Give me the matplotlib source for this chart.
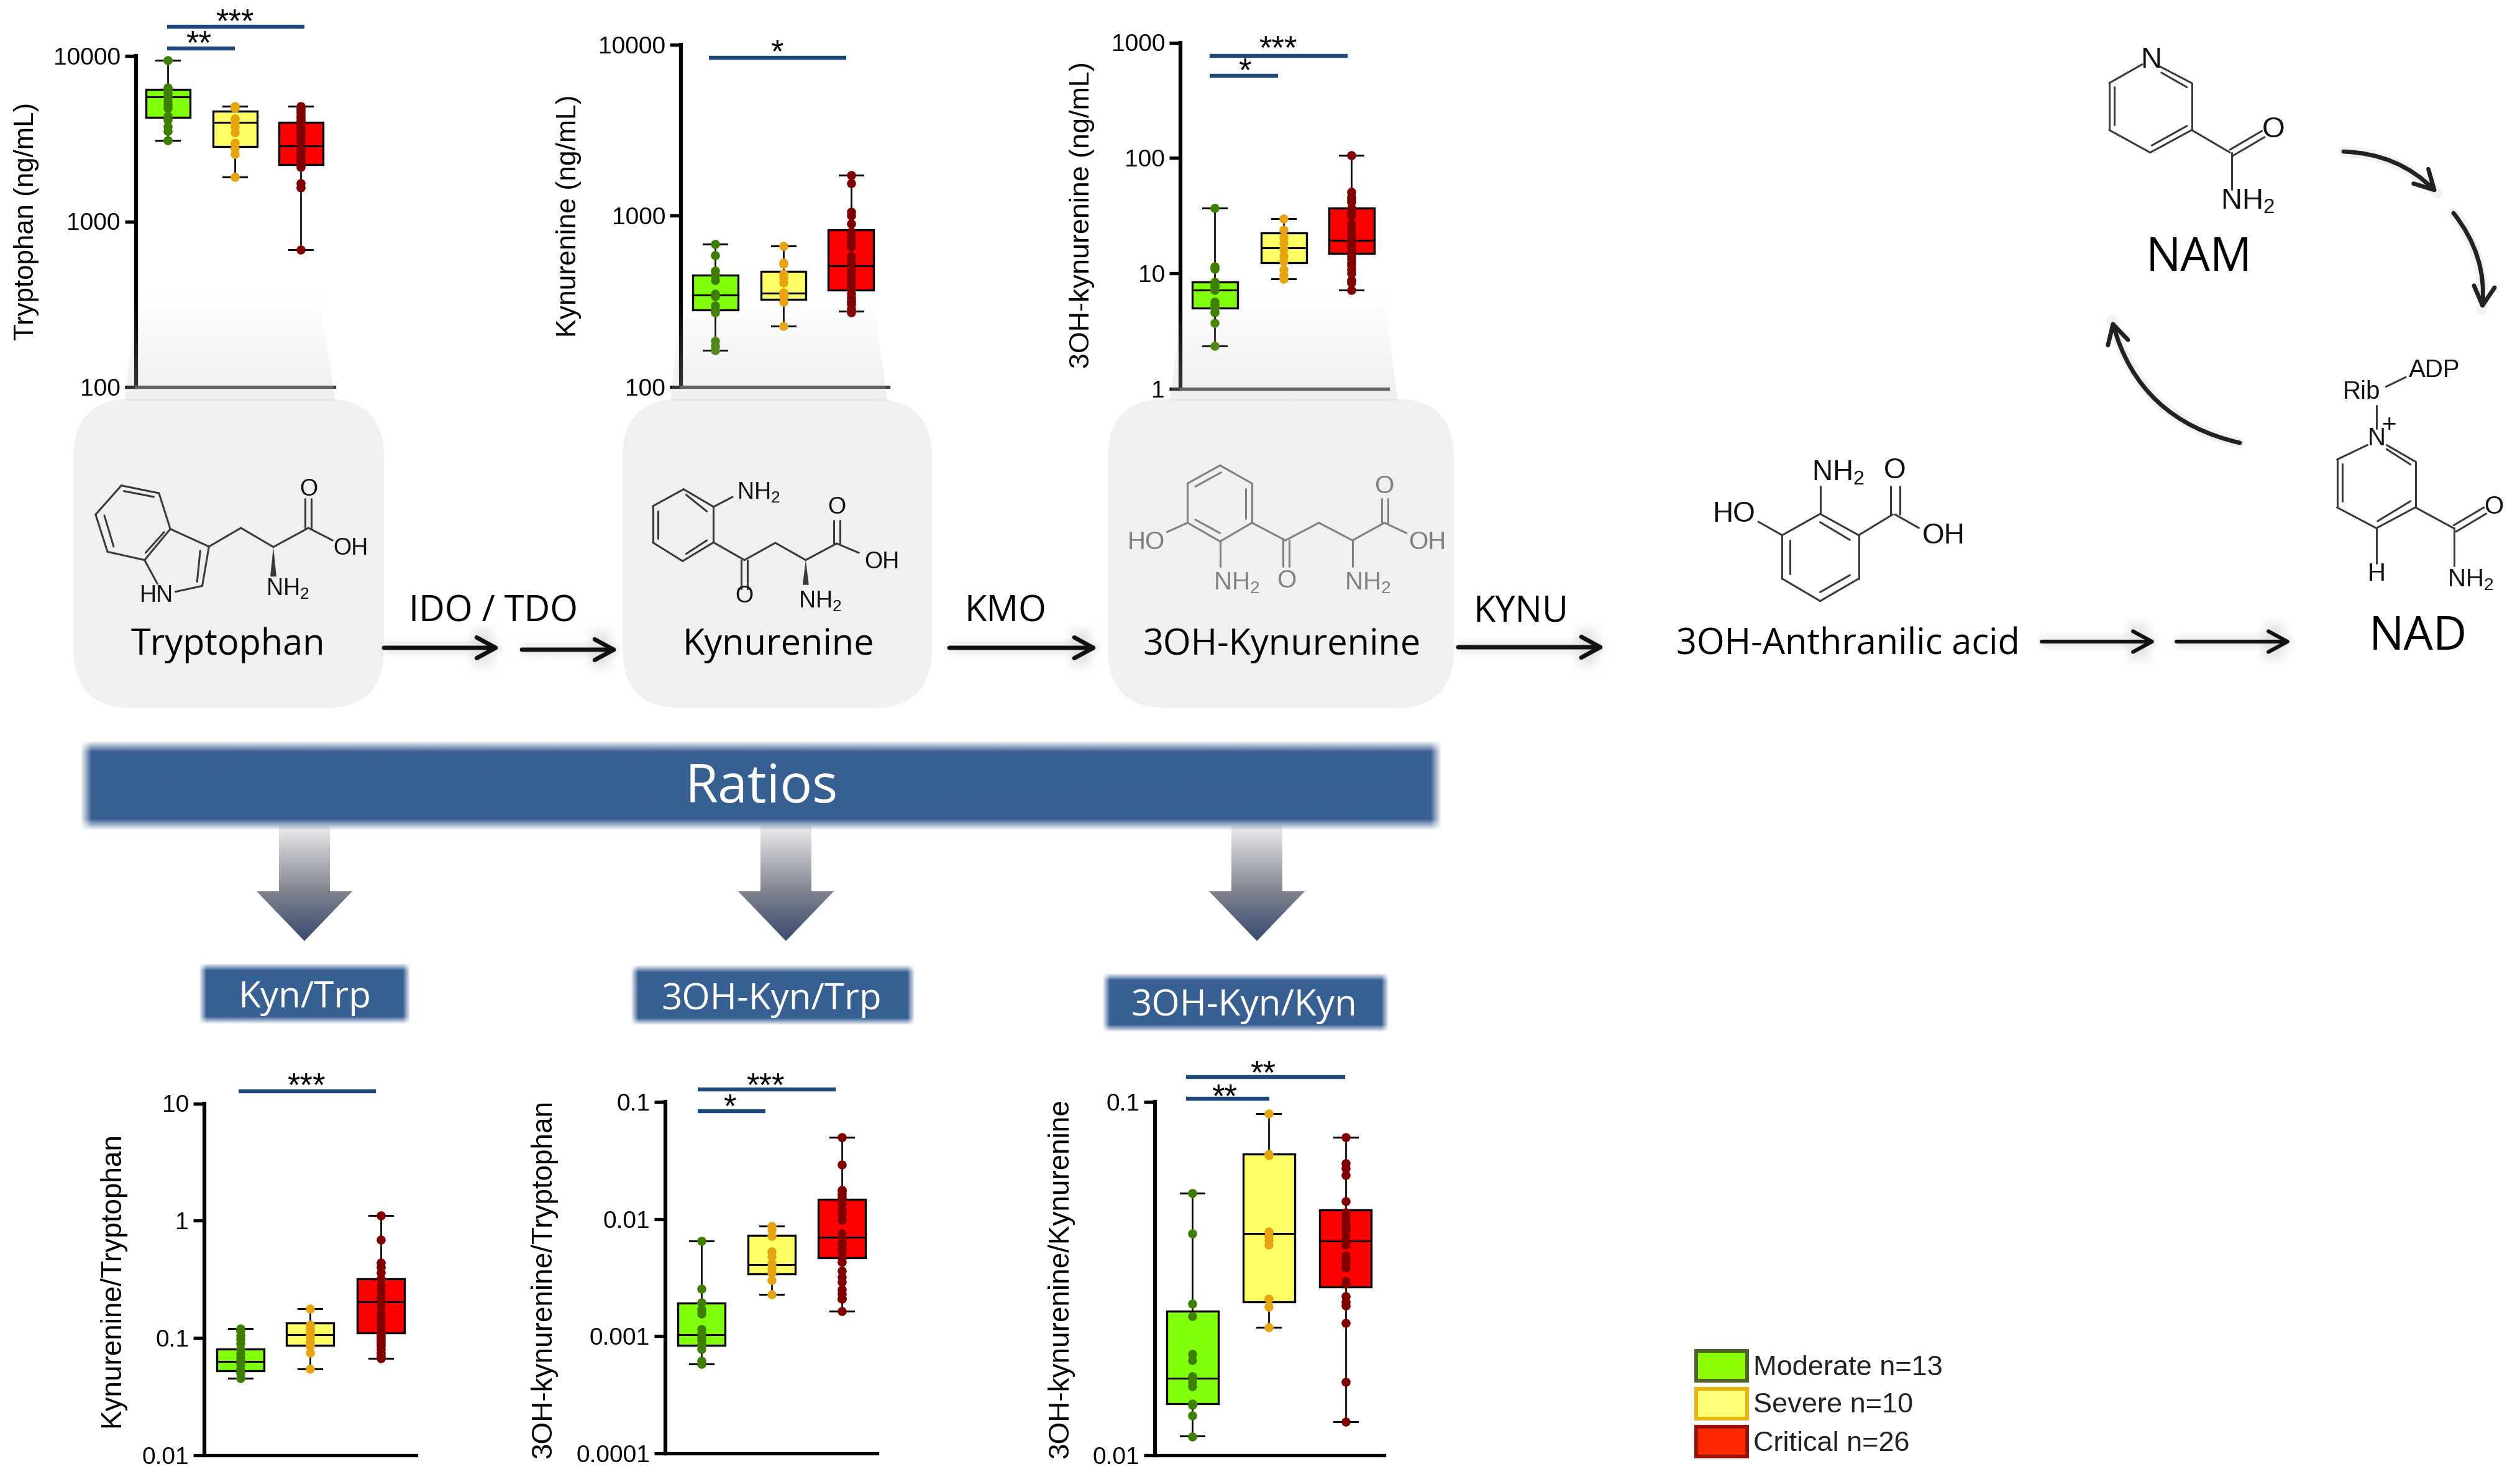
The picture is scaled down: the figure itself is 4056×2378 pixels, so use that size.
# -*- coding: utf-8 -*-
"""
Kynurenine pathway figure: boxplots of the metabolites and ratios plus the pathway sketch
"""
import matplotlib
matplotlib.use("Agg")
import matplotlib.pyplot as plt
import numpy as np
from matplotlib.colors import to_rgb
from matplotlib.patches import FancyArrowPatch, FancyBboxPatch, Polygon, Rectangle
from matplotlib.ticker import FixedLocator, FixedFormatter, NullLocator

W, H = 4056, 2378
DPI = 100
plt.rcParams['font.family'] = ['Liberation Sans', 'DejaVu Sans']
plt.rcParams['mathtext.default'] = 'regular'

#%% Data, boxes are [whisker low, q1, median, q3, whisker high]
trp_box = [[3083, 4255, 5675, 6285, 9383], [1853, 2840, 3961, 4636, 4983], [673, 2206, 2860, 3978, 4983]]
trp_moderate = [9383, 6427, 6285, 5963, 5637, 5330, 5036, 4851, 4335, 4099, 3733, 3529, 3083]
trp_severe = [4983, 4853, 4177, 3947, 3733, 3463, 2981, 2765, 2564, 1853]
trp_critical = [4983, 4853, 4672, 4500, 4335, 4177, 4023, 3877, 3733, 3596, 3463, 3336, 3260,
                3153, 3038, 2765, 2665, 2564, 2470, 2380, 2293, 2208, 2128, 1699, 1606, 673]

kyn_box = [[164, 282, 343, 450, 682], [227, 325, 353, 473, 665], [277, 368, 509, 830, 1725]]
kyn_moderate = [682, 586, 477, 450, 420, 350, 338, 298, 282, 272, 186, 173, 164]
kyn_severe = [665, 531, 524, 459, 435, 405, 356, 338, 314, 227]
kyn_critical = [1725, 1549, 1057, 1002, 899, 805, 750, 697, 661, 582, 551, 522, 494,
                468, 443, 420, 398, 370, 350, 332, 320, 314, 303, 287, 277, 272]

ohk_box = [[2.35, 5.0, 7.2, 8.4, 37], [8.96, 12.4, 16.7, 22.3, 29.9], [7.2, 14.9, 19.4, 37, 106]]
ohk_moderate = [37, 11.5, 10.9, 8.4, 8.0, 7.6, 7.2, 5.7, 5.3, 5.0, 4.6, 3.7, 2.35]
ohk_severe = [29.9, 24, 20.6, 18.5, 16.2, 14.2, 12.7, 10.8, 9.7, 8.96]
ohk_critical = [106, 51, 46, 44, 41.5, 37, 33.4, 31.7, 27, 24.9, 23, 21.2, 19.5,
                19, 18, 16.6, 15.3, 14.2, 13.4, 12.4, 11.7, 10.8, 10, 8.7, 8.3, 7.2]

kt_box = [[0.0456, 0.0523, 0.0629, 0.0805, 0.1197], [0.0546, 0.0863, 0.107, 0.1337, 0.177], [0.0673, 0.110, 0.204, 0.318, 1.104]]
kt_moderate = [0.1197, 0.115, 0.105, 0.098, 0.09, 0.08, 0.074, 0.068, 0.063, 0.059, 0.054, 0.05, 0.0456]
kt_severe = [0.177, 0.13, 0.12, 0.115, 0.108, 0.10, 0.092, 0.085, 0.075, 0.0546]
kt_critical = [1.104, 0.689, 0.44, 0.40, 0.36, 0.32, 0.28, 0.25, 0.225, 0.205, 0.19, 0.165, 0.155,
               0.14, 0.13, 0.12, 0.11, 0.105, 0.10, 0.095, 0.09, 0.085, 0.08, 0.075, 0.07, 0.0673]

ot_box = [[0.000583, 0.000836, 0.00103, 0.00191, 0.00649], [0.00228, 0.0034, 0.00409, 0.00728, 0.00867], [0.00164, 0.0047, 0.00698, 0.0147, 0.0501]]
ot_moderate = [0.00649, 0.00254, 0.00195, 0.0017, 0.00155, 0.00115, 0.00105, 0.00098, 0.00092, 0.00085, 0.00078, 0.00062, 0.000583]
ot_severe = [0.00867, 0.0081, 0.0072, 0.00525, 0.0048, 0.0042, 0.0038, 0.0035, 0.003, 0.00228]
ot_critical = [0.0501, 0.0292, 0.0176, 0.0175, 0.0165, 0.0155, 0.0145, 0.0135, 0.012, 0.011, 0.0098, 0.0075, 0.0068,
               0.0062, 0.0056, 0.0052, 0.0047, 0.0043, 0.0036, 0.0032, 0.0029, 0.0025, 0.0023, 0.0021, 0.00208, 0.00164]

ok_box = [[0.01132, 0.014, 0.01655, 0.0256, 0.0551], [0.02304, 0.0272, 0.0424, 0.0713, 0.0926], [0.01245, 0.03, 0.0404, 0.0495, 0.0795]]
ok_moderate = [0.0551, 0.0424, 0.0268, 0.0248, 0.01937, 0.01854, 0.0167, 0.01612, 0.0157, 0.01402, 0.0139, 0.01296, 0.0113]
ok_severe = [0.0926, 0.0713, 0.0705, 0.043, 0.0418, 0.0405, 0.0394, 0.0277, 0.0263, 0.02304]
ok_critical = [0.0795, 0.0671, 0.0648, 0.062, 0.0523, 0.0486, 0.0475, 0.0469, 0.0453, 0.0443, 0.0433, 0.0418, 0.0404,
               0.0394, 0.0367, 0.0358, 0.0351, 0.0339, 0.031, 0.0305, 0.02823, 0.0272, 0.0265, 0.0237, 0.0161, 0.01245]

legend_labels = ['Moderate n=13', 'Severe n=10', 'Critical n=26']
box_colors = ['#80FF0A', '#FFFF66', '#FF0000']
dot_colors = ['#3F7F00', '#E6A50F', '#800000']

#%% Layout of the six panels, all in pixels of the final picture
panels = [
    dict(box=trp_box, pts=[trp_moderate, trp_severe, trp_critical], ylabel='Tryptophan (ng/mL)',
         ticks=[100, 1000, 10000], labels=['100', '1000', '10000'], fs=31.5,
         x=(219, 538), y=(90, 623), cx=(270, 378, 484), bw=71, lab=(43, 356), spine='#404040',
         bars=[(269, 490, 42.5, '***', 378, 21), (269, 378, 78, '**', 320, 56)]),
    dict(box=kyn_box, pts=[kyn_moderate, kyn_severe, kyn_critical], ylabel='Kynurenine (ng/mL)',
         ticks=[100, 1000, 10000], labels=['100', '1000', '10000'], fs=32,
         x=(1096, 1430), y=(71.5, 623), cx=(1151, 1261, 1370), bw=73, lab=(915, 348), spine='#404040',
         bars=[(1141, 1362, 93, '*', 1250, 70)]),
    dict(box=ohk_box, pts=[ohk_moderate, ohk_severe, ohk_critical], ylabel='3OH-kynurenine (ng/mL)',
         ticks=[1, 10, 100, 1000], labels=['1', '10', '100', '1000'], fs=32.3,
         x=(1900, 2234), y=(68.5, 626), cx=(1955, 2066, 2175), bw=73, lab=(1741, 346), spine='#404040',
         bars=[(1947, 2169, 90, '***', 2057, 64), (1947, 2057, 122, '*', 2003, 100)]),
    dict(box=kt_box, pts=[kt_moderate, kt_severe, kt_critical], ylabel='Kynurenine/Tryptophan',
         ticks=[0.01, 0.1, 1, 10], labels=['0.01', '0.1', '1', '10'], fs=33,
         x=(329, 670), y=(1776.5, 2343), cx=(387, 499, 613), bw=76, lab=(180, 2061), spine='black',
         bars=[(384, 605, 1757, '***', 493, 1734)]),
    dict(box=ot_box, pts=[ot_moderate, ot_severe, ot_critical], ylabel='3OH-kynurenine/Tryptophan',
         ticks=[0.0001, 0.001, 0.01, 0.1], labels=['0.0001', '0.001', '0.01', '0.1'], fs=33,
         x=(1071, 1412), y=(1774, 2340), cx=(1129, 1242, 1355), bw=76, lab=(875, 2059), spine='black',
         bars=[(1123, 1345, 1754, '***', 1232, 1734), (1123, 1232, 1789, '*', 1174, 1768)]),
    dict(box=ok_box, pts=[ok_moderate, ok_severe, ok_critical], ylabel='3OH-kynurenine/Kynurenine',
         ticks=[0.01, 0.1], labels=['0.01', '0.1'], fs=33,
         x=(1859, 2228), y=(1774, 2343), cx=(1919, 2042, 2165.5), bw=83, lab=(1707, 2059), spine='black',
         bars=[(1909, 2165, 1734, '**', 2033, 1714), (1909, 2043, 1769, '**', 1971, 1752)]),
]


def px_axes(x0, x1, y0, y1, zorder=1):
    return fig.add_axes([x0 / W, 1 - y1 / H, (x1 - x0) / W, (y1 - y0) / H], zorder=zorder)


def soft_rect(ax, x0, x1, y0, y1, color, blur=5, alpha=1.0, zorder=1):
    # rectangle with blurred edges, built as an rgba image
    xs = np.arange(x0 - blur, x1 + blur + 1)
    ys = np.arange(y0 - blur, y1 + blur + 1)
    ax_a = np.clip((xs - x0 + blur) / (2 * blur), 0, 1) * np.clip((x1 + blur - xs) / (2 * blur), 0, 1)
    ay_a = np.clip((ys - y0 + blur) / (2 * blur), 0, 1) * np.clip((y1 + blur - ys) / (2 * blur), 0, 1)
    img = np.ones((len(ys), len(xs), 4))
    img[..., :3] = to_rgb(color)
    img[..., 3] = np.outer(ay_a, ax_a) * alpha
    ax.imshow(img, extent=(x0 - blur, x1 + blur, y1 + blur, y0 - blur), aspect='auto', zorder=zorder, interpolation='bilinear')


def gradient_poly(ax, verts, stops, zorder=2):
    # vertical gradient clipped to a polygon, stops are (y, rgba)
    vs = np.array(verts)
    x0, x1, y0, y1 = vs[:, 0].min(), vs[:, 0].max(), vs[:, 1].min(), vs[:, 1].max()
    ys = np.linspace(y0, y1, 200)
    img = np.ones((200, 2, 4))
    for k in range(4):
        img[:, :, k] = np.interp(ys, [s[0] for s in stops], [s[1][k] for s in stops])[:, None]
    im = ax.imshow(img, extent=(x0, x1, y1, y0), aspect='auto', zorder=zorder)
    im.set_clip_path(Polygon(verts, closed=True, transform=ax.transData))


fig = plt.figure(figsize=(W / DPI, H / DPI), dpi=DPI, facecolor='white')
bg = fig.add_axes([0, 0, 1, 1], zorder=0)
top = fig.add_axes([0, 0, 1, 1], zorder=5)
for a in (bg, top):
    a.set_axis_off()
    a.patch.set_alpha(0)

#%% Grey boxes around the three measured metabolites
for x0, x1 in [(118, 618), (1002, 1500), (1783, 2340)]:
    r = 95
    bg.add_patch(FancyBboxPatch((x0 + r, 642 + r), x1 - x0 - 2 * r, 1140 - 642 - 2 * r,
                                boxstyle=f'round,pad={r},rounding_size={r}', fc='#F0F0F0', ec='none', zorder=1))

#%% Boxplots
for p in panels:
    ax = px_axes(p['x'][0], p['x'][1], p['y'][0], p['y'][1], zorder=2)
    ax.patch.set_alpha(0)
    sp = (p['cx'][2] - p['cx'][0]) / 2
    ax.set_yscale('log')
    stats = [dict(whislo=b[0], q1=b[1], med=b[2], q3=b[3], whishi=b[4], fliers=[]) for b in p['box']]
    pos = [1 + (c - p['cx'][0]) / sp for c in p['cx']]
    art = ax.bxp(stats, positions=pos, widths=p['bw'] / sp, capwidths=38 / sp, patch_artist=True, showfliers=False,
                 boxprops=dict(edgecolor='black', linewidth=2.4),
                 medianprops=dict(color='black', linewidth=2.2),
                 whiskerprops=dict(color='black', linewidth=1.9),
                 capprops=dict(color='black', linewidth=2.2), manage_ticks=False)
    for b, col in zip(art['boxes'], box_colors):
        b.set_facecolor(col)
    for xp, vals, col in zip(pos, p['pts'], dot_colors):
        ax.scatter([xp] * len(vals), vals, s=110, color=col, linewidths=0, zorder=4)
    ax.set_xlim(1 - (p['cx'][0] - p['x'][0]) / sp, 1 + (p['x'][1] - p['cx'][0]) / sp)
    ax.set_ylim(p['ticks'][0], p['ticks'][-1])
    for s in ('top', 'right'):
        ax.spines[s].set_visible(False)
    ax.spines['left'].set_linewidth(4.5)
    ax.spines['bottom'].set_linewidth(3.8)
    ax.spines['bottom'].set_color(p['spine'])
    ax.xaxis.set_major_locator(NullLocator())
    ax.xaxis.set_minor_locator(NullLocator())
    ax.yaxis.set_major_locator(FixedLocator(p['ticks']))
    ax.yaxis.set_major_formatter(FixedFormatter(p['labels']))
    ax.yaxis.set_minor_locator(NullLocator())
    ax.tick_params(axis='y', length=13, width=3.8, labelsize=28, pad=5)
    ax.set_ylabel(p['ylabel'], fontsize=p['fs'], va='center')
    ax.yaxis.set_label_coords(p['lab'][0], p['lab'][1], transform=bg.transData)
    for x0, x1, yb, stars, xs, ys in p['bars']:
        bg.plot([x0, x1], [yb, yb], color='#1F497D', lw=4.6, solid_capstyle='butt', zorder=3)
        bg.text(xs, ys + 30, stars, fontsize=38, ha='center', va='baseline', zorder=3)

#%% Trapezoid veils that fade the bottom of the upper charts into the grey boxes
veil = to_rgb('#C8C8C8')
for verts in [[(219, 477), (513, 477), (540, 645), (201, 645)],
              [(1096, 477), (1405, 477), (1428, 645), (1079, 645)],
              [(1904, 473), (2226, 473), (2250, 645), (1883, 645)]]:
    gradient_poly(top, verts, [(475, veil + (0.0,)), (645, veil + (0.3,))], zorder=2)

#%% Ratios banner, arrows and labels
BLUE = '#376092'
soft_rect(bg, 138, 2312, 1201, 1328, BLUE, blur=9, zorder=3)
bg.text(1226, 1270, 'Ratios', color='white', fontsize=62, family='Open Sans', ha='center', va='center', zorder=5)
for cx in (490, 1265, 2023):
    verts = [(cx - 41, 1330), (cx + 41, 1330), (cx + 41, 1435), (cx + 77, 1435), (cx, 1515), (cx - 77, 1435), (cx - 41, 1435)]
    gradient_poly(bg, verts, [(1330, to_rgb('#ECECEE') + (1,)), (1435, to_rgb('#80838F') + (1,)), (1515, to_rgb('#384A70') + (1,))], zorder=2)
for (x0, x1, y0, y1), lab, cx, cy in [((326, 655, 1556, 1643), 'Kyn/Trp', 490, 1607),
                                      ((1021, 1467, 1559, 1645), '3OH-Kyn/Trp', 1242, 1610),
                                      ((1780, 2230, 1572, 1656), '3OH-Kyn/Kyn', 2002, 1620)]:
    soft_rect(bg, x0, x1, y0, y1, BLUE, blur=6, zorder=3)
    bg.text(cx, cy, lab, color='white', fontsize=42, family='Open Sans', ha='center', va='center', zorder=5)

#%% Pathway names and enzymes
for x, y, s in [(367, 1039, 'Tryptophan'), (1253, 1039, 'Kynurenine'), (2063, 1039, '3OH-Kynurenine'),
                (2974, 1038, '3OH-Anthranilic acid'), (794, 985, 'IDO / TDO'), (1618, 985, 'KMO'), (2448, 985, 'KYNU')]:
    bg.text(x, y, s, fontsize=41.5, family='Open Sans', ha='center', va='center', color='black', zorder=6)
for x, y, s in [(3539, 417, 'NAM'), (3892, 1027, 'NAD')]:
    bg.text(x, y, s, fontsize=54, family='Open Sans', ha='center', va='center', color='black', zorder=6)


def straight_arrow(x0, x1, y, lw=5.0, hl=22, hw=12):
    soft_rect(bg, x0, x1, y - 9, y + 9, '#D8D8D8', blur=8, alpha=0.55, zorder=2)
    soft_rect(bg, x1 - 45, x1 - 12, y - 30, y + 30, '#D8D8D8', blur=10, alpha=0.6, zorder=2)
    bg.add_patch(FancyArrowPatch((x0, y), (x1, y), arrowstyle=f'->,head_length={hl},head_width={hw}', mutation_scale=1,
                                 lw=lw, color='#111111', shrinkA=0, shrinkB=0, zorder=4))


for x0, x1, y in [(618, 805, 1043), (840, 995, 1046), (1528, 1767, 1043), (2347, 2583, 1042)]:
    straight_arrow(x0, x1, y)
for x0, x1, y in [(3286, 3470, 1033), (3503, 3688, 1033)]:
    straight_arrow(x0, x1, y, lw=4.4)
for a, b, rad in [((3772, 244), (3923, 311), -0.2), ((3949, 343), (3995, 499), -0.2), ((3605, 713), (3399, 515), -0.3)]:
    bg.add_patch(FancyArrowPatch(a, b, connectionstyle=f'arc3,rad={rad}', arrowstyle='-', lw=12, color='#C0C0C0',
                                 alpha=0.22, shrinkA=0, shrinkB=0, zorder=2))
    bg.add_patch(FancyArrowPatch(a, b, connectionstyle=f'arc3,rad={rad}', arrowstyle='->,head_length=22,head_width=12',
                                 mutation_scale=1, lw=5, color='#222222', shrinkA=0, shrinkB=0, zorder=4))


#%% Chemical structures, traced in crop coordinates and mapped to pixels
def draw_mol(bonds, labels, ox, oy, sx, sy, color='#3A3A3A', lw=2.2, fs=27, wedge=None):
    for (xa, ya), (xb, yb) in bonds:
        bg.plot([ox + xa / sx, ox + xb / sx], [oy + ya / sy, oy + yb / sy], color=color, lw=lw, zorder=5, solid_capstyle='round')
    if wedge:
        (xa, ya), (xb, yb) = wedge
        hw = 5
        bg.add_patch(Polygon([(ox + xa / sx, oy + ya / sy), (ox + xb / sx - hw, oy + yb / sy), (ox + xb / sx + hw, oy + yb / sy)],
                             closed=True, fc=color, ec='none', zorder=5))
    for x, y, s in labels:
        bg.text(ox + x / sx, oy + y / sy, s, fontsize=fs, color=color if color != '#3A3A3A' else '#111111',
                ha='center', va='center', zorder=6, family='Liberation Sans')


draw_mol([((115, 425), (188, 462)), ((188, 462), (210, 635)), ((210, 635), (160, 785)), ((160, 785), (88, 745)),
          ((88, 745), (65, 565)), ((65, 565), (115, 425)), ((120, 452), (178, 480)), ((82, 570), (100, 720)),
          ((162, 750), (198, 650)), ((210, 635), (285, 720)), ((285, 720), (272, 910)), ((272, 910), (220, 938)),
          ((160, 785), (185, 900)), ((268, 740), (262, 890)), ((285, 720), (347, 630)), ((347, 630), (410, 722)),
          ((410, 722), (478, 630)), ((472, 630), (472, 490)), ((484, 630), (484, 490)), ((478, 630), (525, 690))],
         [(478, 445, 'O'), (560, 728, 'OH'), (438, 925, r'NH$_2$'), (183, 958, 'HN')],
         100, 640, 1.206, 3, wedge=((410, 722), (410, 865)))

draw_mol([((1210, 443), (1268, 528)), ((1268, 528), (1268, 700)), ((1268, 700), (1208, 790)), ((1208, 790), (1150, 700)),
          ((1150, 700), (1150, 525)), ((1150, 525), (1210, 443)), ((1215, 470), (1255, 550)), ((1160, 550), (1160, 680)),
          ((1215, 755), (1255, 690)), ((1268, 528), (1305, 480)), ((1268, 700), (1328, 785)), ((1328, 785), (1388, 702)),
          ((1388, 702), (1447, 785)), ((1447, 785), (1507, 705)), ((1507, 705), (1550, 750)), ((1322, 785), (1322, 925)),
          ((1334, 785), (1334, 925)), ((1501, 705), (1501, 595)), ((1513, 705), (1513, 595))],
         [(1355, 460, r'NH$_2$'), (1507, 530, 'O'), (1327, 960, 'O'), (1475, 985, r'NH$_2$'), (1595, 795, 'OH')],
         97, 640, 1.206, 3, wedge=((1447, 785), (1447, 905)))

draw_mol([((318, 328), (380, 415)), ((380, 415), (380, 605)), ((380, 605), (318, 695)), ((318, 695), (255, 605)),
          ((255, 605), (255, 415)), ((255, 415), (318, 328)), ((320, 362), (270, 430)), ((368, 440), (368, 585)),
          ((270, 590), (318, 655)), ((255, 605), (215, 650)), ((318, 695), (318, 815)), ((380, 605), (445, 690)),
          ((445, 690), (510, 605)), ((510, 605), (575, 690)), ((575, 690), (637, 605)), ((637, 605), (680, 655)),
          ((440, 690), (440, 815)), ((452, 690), (452, 815)), ((632, 605), (632, 490)), ((644, 605), (644, 490)),
          ((575, 690), (575, 815))],
         [(175, 700, 'HO'), (350, 895, r'NH$_2$'), (447, 885, 'O'), (605, 895, r'NH$_2$'), (637, 430, 'O'), (720, 700, 'OH')],
         1700, 640, 1.206, 3, color='#808080', fs=29)

draw_mol([((600, 382), (762, 485)), ((762, 485), (762, 695)), ((762, 695), (600, 803)), ((600, 803), (440, 695)),
          ((440, 695), (440, 485)), ((440, 485), (600, 382)), ((600, 422), (725, 508)), ((472, 510), (472, 672)),
          ((600, 760), (725, 678)), ((762, 485), (905, 385)), ((897, 385), (897, 250)), ((935, 385), (935, 250)),
          ((915, 385), (1015, 450)), ((440, 485), (340, 420)), ((600, 382), (600, 250))],
         [(675, 185, r'NH$_2$'), (915, 175, 'O'), (238, 385, 'HO'), (1120, 490, 'OH')],
         2700, 700, 2.613, 3, fs=33)

draw_mol([((385, 80), (282, 125)), ((282, 125), (282, 238)), ((282, 238), (410, 292)), ((410, 292), (540, 238)),
          ((540, 238), (540, 125)), ((540, 125), (440, 85)), ((445, 100), (525, 135)), ((298, 135), (298, 225)),
          ((415, 275), (525, 228)), ((540, 238), (660, 292)), ((660, 285), (760, 240)), ((668, 300), (768, 255)),
          ((665, 292), (665, 380))],
         [(412, 70, 'N'), (795, 237, 'O'), (715, 410, r'NH$_2$')],
         3250, 50, 1.945, 1.493, fs=34)

draw_mol([((1090, 995), (995, 1030)), ((995, 1030), (995, 1145)), ((995, 1145), (1118, 1195)), ((1118, 1195), (1240, 1145)),
          ((1240, 1145), (1240, 1035)), ((1240, 1035), (1150, 995)), ((1150, 1005), (1225, 1042)), ((1012, 1040), (1012, 1130)),
          ((1122, 1178), (1225, 1130)), ((1240, 1145), (1360, 1195)), ((1360, 1188), (1455, 1145)), ((1368, 1203), (1462, 1160)),
          ((1362, 1195), (1362, 1285)), ((1118, 1195), (1118, 1280)), ((1118, 900), (1118, 955)), ((1148, 855), (1210, 832))],
         [(1072, 868, 'Rib'), (1300, 815, 'ADP'), (1118, 980, 'N'), (1158, 948, '+'), (1485, 1143, 'O'),
          (1412, 1320, r'NH$_2$'), (1118, 1305, 'H')],
         3250, 50, 1.945, 1.493, fs=29)

#%% Legend
legend_edges = ['#4F6228', '#EDB20C', '#991100']
legend_fills = ['#8CFC00', '#FFFF75', '#FF2A00']
for k, lab in enumerate(legend_labels):
    y0 = 2172 + k * 61
    bg.add_patch(Rectangle((2730, y0 + 3), 82, 48, fc=legend_fills[k], ec=legend_edges[k], lw=4.3, zorder=3))
    bg.text(2822, y0 + 30, lab, fontsize=32.5, color='#222222', ha='left', va='center', zorder=3)

for a in (bg, top):
    a.set_xlim(0, W)
    a.set_ylim(H, 0)

fig.savefig('out.png', dpi=DPI)
